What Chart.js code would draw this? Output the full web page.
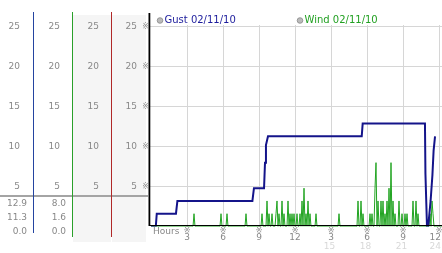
<!DOCTYPE html>
<html><head><meta charset="utf-8">
<script src="https://cdn.jsdelivr.net/npm/chart.js@4/dist/chart.umd.min.js"></script>
<style>html,body{margin:0;padding:0;background:#fff;overflow:hidden}canvas{display:block}</style>
</head><body>
<canvas id="c" width="442" height="253"></canvas>
<script>
// ---- data ----
const gustHours  = [0, 0.4, 0.48, 2.08, 2.2, 8.45, 8.58, 9.42, 9.5, 9.58, 9.75, 17.56, 17.64, 22.83, 22.87, 23.0, 23.1, 23.3, 23.45, 23.55, 23.67];
const gustValues = [0, 0,   1.6,  1.6,  3.2, 3.2,  4.8,  4.8,  8.0, 10.2, 11.3, 11.3,  12.9,  12.9,  6.6,   0,    0,    3.2,  6.4,   9.5,   11.3];
// wind: 5-minute sample index (from 0h) of non-zero readings and their speeds
const windSample = [43,70,76,95,111,116,118,121,125,126,128,131,133,137,139,141,143,146,149,151,153,155,157,159,165,188,207,210,212,219,221,224,225,227,230,232,234,236,238,240,242,244,248,251,254,256,262,265,267,279,281,282];
const windSpeed  = [1.6,1.6,1.6,1.6,1.6,3.2,1.6,1.6,1.6,3.2,1.6,3.2,1.6,3.2,1.6,1.6,1.6,1.6,1.6,3.2,4.8,1.6,3.2,1.6,1.6,1.6,3.2,3.2,1.6,1.6,1.6,4.8,8.0,3.2,3.2,3.2,1.6,3.2,4.8,8.0,3.2,1.6,3.2,1.6,1.6,1.6,3.2,3.2,1.6,1.6,3.2,1.6];
const windSampleCount = 292;
const yTicks = [5, 10, 15, 20, 25];
const xTicks = [3, 6, 9, 12, 15, 18, 21, 24];
const xTickLabels  = ['3','6','9','12','3','6','9','12'];
const xTickLabels2 = ['','','','','15','18','21','24'];
const gustStats = ['12.9','11.3','0.0'];
const windStats = ['8.0','1.6','0.0'];
const gustLabel = 'Gust 02/11/10';
const windLabel = 'Wind 02/11/10';
const xTitle = 'Hours';

// ---- build series ----
const gustData = gustHours.map((h,i)=>({x:h, y:gustValues[i]}));
const windArr = new Array(windSampleCount).fill(0);
windSample.forEach((s,i)=>{ windArr[s] = windSpeed[i]; });
const windData = windArr.map((v,i)=>({x:i/12, y:v}));

const FONT = '9px "DejaVu Sans"';
const GRAY = '#888';
const MARK = '※';
const MARKFONT = '8px "DejaVu Sans", "Noto Sans CJK JP"';

const panel = {
  id:'panel',
  beforeDraw(chart){
    const ctx = chart.ctx;
    ctx.save();
    ctx.fillStyle = '#fff'; ctx.fillRect(0,0,chart.width,chart.height);
    ctx.fillStyle = '#f5f5f5';
    ctx.fillRect(73,15,38,227);
    ctx.fillRect(112,15,34,227);
    ctx.restore();
  },
  afterDraw(chart){
    const ctx = chart.ctx, ys = chart.scales.y, xs = chart.scales.x;
    ctx.save();
    // axes
    ctx.fillStyle = '#000';
    ctx.fillRect(148.5,13,1.8,213);
    ctx.fillRect(149,225,293,1);
    // separator line
    ctx.fillStyle = '#a4a4a4';
    ctx.fillRect(0,195,148,2);
    // column lines
    ctx.fillStyle = '#2444a0'; ctx.fillRect(33,12,1,221);
    ctx.fillStyle = '#2aa02a'; ctx.fillRect(72,12,1,225);
    ctx.fillStyle = '#b02828'; ctx.fillRect(111,12,1,225);
    // tick labels
    ctx.font = FONT; ctx.fillStyle = GRAY; ctx.textBaseline = 'middle'; ctx.textAlign = 'right';
    const cols = [20, 60, 99, 137];
    yTicks.forEach(v=>{
      const y = ys.getPixelForValue(v);
      cols.forEach(cx=>ctx.fillText(String(v), cx, y));
    });
    ctx.font = MARKFONT; ctx.textAlign='center'; ctx.fillStyle = '#909090';
    yTicks.forEach(v=>{ ctx.fillText(MARK, 145.5, ys.getPixelForValue(v)); });
    // stats
    ctx.font = FONT; ctx.fillStyle = GRAY; ctx.textAlign = 'right';
    [204,218,232].forEach((y,i)=>{
      ctx.fillText(gustStats[i], 27, y);
      ctx.fillText(windStats[i], 66, y);
    });
    // x labels
    ctx.textAlign = 'left'; ctx.fillText(xTitle, 153, 232);
    xTicks.forEach((v,i)=>{
      const px = xs.getPixelForValue(v);
      ctx.font = MARKFONT; ctx.fillStyle = '#909090'; ctx.textAlign='center';
      ctx.fillText(MARK, Math.min(px, 439), 231);
      ctx.font = FONT; ctx.fillStyle = GRAY;
      let w = ctx.measureText(xTickLabels[i]).width;
      let cx = Math.min(px, 441 - w/2);
      ctx.fillText(xTickLabels[i], cx, 238);
      if (xTickLabels2[i]) {
        ctx.fillStyle = '#d8d8d8';
        w = ctx.measureText(xTickLabels2[i]).width;
        cx = Math.min(px - 1.5, 441 - w/2);
        ctx.fillText(xTickLabels2[i], cx, 247);
      }
    });
    // legend
    const leg = (x, text, color) => {
      ctx.beginPath(); ctx.arc(x, 20.5, 2.8, 0, Math.PI*2);
      ctx.fillStyle = '#bbb'; ctx.fill(); ctx.strokeStyle = '#888'; ctx.lineWidth = 0.8; ctx.stroke();
      ctx.font = '10px "DejaVu Sans"'; ctx.fillStyle = color; ctx.textAlign = 'left'; ctx.textBaseline='middle';
      ctx.fillText(text, x + 4.5, 20.5);
    };
    leg(160, gustLabel, '#1c1c9c');
    leg(300, windLabel, '#22a022');
    ctx.restore();
  }
};

new Chart(document.getElementById('c'), {
  type:'line',
  data:{ datasets:[
    {label:windLabel, data:windData, borderColor:'#22a422', borderWidth:1, pointRadius:0, tension:0, fill:false, order:2},
    {label:gustLabel, data:gustData, borderColor:'#14148a', borderWidth:2, pointRadius:0, tension:0, fill:false, order:1}
  ]},
  options:{
    responsive:false, devicePixelRatio:1, animation:false,
    layout:{padding:{left:150, right:0, top:25, bottom:26.5}},
    plugins:{legend:{display:false}, tooltip:{enabled:false}, title:{display:false}},
    scales:{
      x:{type:'linear', min:-1/12, max:24.25,
         afterBuildTicks:s=>{ s.ticks = xTicks.map(v=>({value:v})); },
         ticks:{display:false}, border:{display:false},
         grid:{color:'#d6d6d6', lineWidth:1, drawTicks:false}},
      y:{type:'linear', min:0, max:25.25,
         afterBuildTicks:s=>{ s.ticks = yTicks.map(v=>({value:v})); },
         ticks:{display:false}, border:{display:false},
         grid:{color:'#d6d6d6', lineWidth:1, drawTicks:false}}
    }
  },
  plugins:[panel]
});
</script>
</body></html>
